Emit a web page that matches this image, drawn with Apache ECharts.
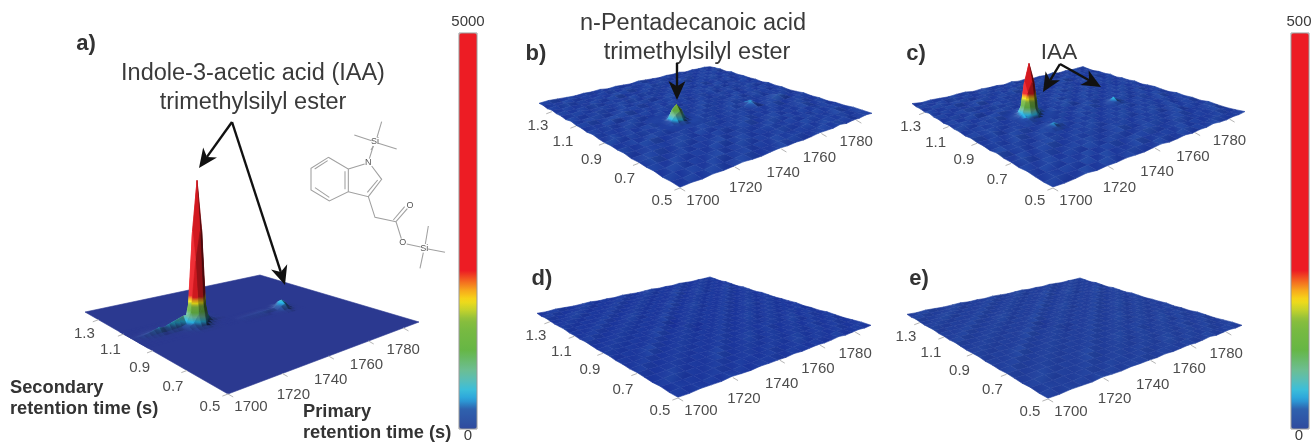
<!DOCTYPE html>
<html><head><meta charset="utf-8">
<style>html,body{margin:0;padding:0;background:#fff}#c{width:1314px;height:442px}#c canvas{filter:blur(0.55px)}</style>
<script src="https://cdn.jsdelivr.net/npm/echarts@6/dist/echarts.min.js"></script>
</head><body><div id="c"></div>
<script>
const primaryTicks = [1700, 1720, 1740, 1760, 1780];
const secondaryTicks = [0.5, 0.7, 0.9, 1.1, 1.3];
const primaryRange = [1700, 1790];
const secondaryRange = [0.5, 1.42];
const scaleMaxA = 5000, scaleMaxB = 500;

// flat baseline (counts)
const surfaceA = [[0,0],[0,0]];
// baseline mottling, in units of 3 counts; rows = secondary, columns = primary
const surfaceB = [
[2,3,1,4,2,3,5,2,1,3,4,2,3,1,2,4,3,2,5,1,3,2,4,2],
[3,1,4,2,5,1,2,4,3,2,1,5,2,4,3,1,2,5,3,2,4,1,2,3],
[1,4,2,3,1,5,3,2,4,1,3,2,4,2,1,3,5,1,2,4,2,3,1,4],
[4,2,5,1,3,2,4,1,2,5,2,3,1,3,4,2,1,3,4,2,1,5,3,2],
[2,3,1,4,2,3,1,5,3,2,4,1,3,5,2,1,4,2,3,1,4,2,2,3],
[3,5,2,1,4,1,3,2,4,1,2,4,2,1,3,5,2,3,1,4,3,1,4,1],
[1,2,4,3,2,5,2,3,1,4,3,2,5,3,1,2,4,1,3,2,5,2,1,3],
[4,1,3,2,1,3,4,1,5,2,1,3,2,4,2,3,1,4,2,1,3,4,2,2],
[2,3,2,5,3,1,2,4,2,3,4,1,3,2,4,1,3,2,5,3,1,2,3,4],
[3,1,4,1,2,4,3,1,3,5,2,3,1,4,2,3,12,1,3,4,8,3,1,2],
[1,5,2,3,4,2,1,5,2,1,4,2,3,1,5,2,2,3,1,2,3,2,4,1],
[2,3,1,4,1,3,4,2,3,2,1,4,2,3,1,4,4,2,3,5,1,3,2,3],
[4,1,3,2,5,1,2,3,1,4,3,1,5,2,3,1,2,5,1,3,2,4,1,2],
[1,3,4,1,2,4,3,1,4,2,2,3,1,4,2,3,4,1,3,2,4,1,3,4],
[3,2,1,5,3,2,1,4,2,3,5,1,3,2,4,1,2,3,4,1,2,5,2,1],
[2,4,3,1,2,5,3,2,1,4,1,3,4,1,3,2,5,1,2,3,4,2,1,3],
[5,1,2,4,1,3,2,4,3,1,2,5,2,3,1,4,2,3,5,1,3,1,4,2],
[1,3,2,3,4,1,5,1,2,4,3,1,4,2,3,1,3,2,1,4,2,3,2,3],
[3,2,4,1,2,3,2,3,5,1,2,3,1,5,2,4,1,4,2,3,1,4,1,2],
[2,4,1,3,5,1,3,2,1,3,4,2,3,1,4,2,3,1,3,2,5,1,3,4],
[4,1,3,2,1,4,2,5,3,2,1,4,2,3,1,3,5,2,1,4,2,3,2,1],
[1,3,5,1,3,2,4,1,2,4,3,1,5,2,4,1,2,3,4,1,3,2,4,3],
[3,2,1,4,2,3,1,3,4,1,2,3,2,1,3,4,2,1,2,3,1,4,1,2],
[2,4,3,2,1,3,2,4,1,3,2,1,4,3,2,1,3,2,4,1,3,2,3,1]
];
const surfaceC = [
[3,1,2,5,1,3,2,4,2,1,3,5,1,2,4,1,3,2,5,2,1,3,2,4],
[1,4,3,1,3,2,5,1,3,4,2,1,4,3,1,5,2,3,1,3,4,2,1,2],
[2,3,1,4,2,5,1,3,2,1,5,3,2,1,3,2,4,1,3,2,1,4,3,1],
[4,1,5,2,3,1,3,2,4,3,1,2,4,5,2,1,3,5,2,1,3,2,5,2],
[1,3,2,3,1,4,2,5,1,2,4,3,1,2,3,4,1,2,4,3,2,1,3,4],
[3,5,1,4,2,1,3,2,3,1,2,5,3,1,4,2,3,1,2,5,1,4,2,1],
[2,1,3,2,5,3,1,4,2,4,1,3,2,4,1,3,2,5,1,2,3,2,4,3],
[5,2,4,1,2,3,4,1,3,2,5,1,3,2,5,1,4,2,3,1,4,1,3,2],
[1,3,2,3,1,5,2,3,1,4,2,3,1,4,2,3,1,3,2,4,2,3,1,4],
[3,4,1,5,2,1,4,2,5,1,3,2,4,1,3,2,5,1,4,2,1,5,2,1],
[2,1,3,2,4,3,1,3,2,3,1,5,2,3,1,4,2,3,1,3,4,2,3,2],
[4,2,5,1,3,2,5,1,4,2,4,1,3,5,2,1,3,2,5,1,2,3,1,4],
[1,3,2,4,1,3,2,3,1,5,2,3,1,2,4,3,1,4,2,3,1,4,2,3],
[3,1,4,2,3,1,4,2,3,1,3,2,6,1,3,2,4,1,3,2,5,1,3,1],
[2,5,1,3,5,2,1,5,2,4,1,4,2,3,1,5,2,3,1,4,2,3,2,4],
[4,2,3,1,2,4,3,1,3,2,3,1,5,2,4,1,3,2,4,1,3,1,4,2],
[1,3,1,5,3,1,2,4,1,5,2,3,1,4,2,3,1,5,2,3,2,4,1,3],
[3,2,4,2,1,3,5,2,3,1,4,2,3,1,5,2,4,1,3,1,4,2,3,1],
[2,4,1,3,4,2,1,3,2,3,1,5,2,3,1,3,2,3,2,5,1,3,1,4],
[5,1,3,2,1,5,3,1,4,2,3,1,4,2,3,1,4,2,1,3,2,4,3,2],
[1,3,2,4,3,1,2,4,1,3,5,2,1,3,4,2,1,5,3,2,4,1,2,3],
[3,2,5,1,2,4,1,3,2,4,1,3,4,1,2,5,3,1,2,4,1,3,4,1],
[2,4,1,3,5,1,3,2,5,1,2,4,2,3,1,3,2,4,1,3,2,5,1,2],
[4,1,3,2,1,3,4,1,3,2,3,1,5,2,4,1,3,2,5,1,3,2,3,4]
];
const surfaceD = [
[2,1,3,2,1,4,2,1,3,2,2,1,3,1,2,3,1,2,4,1,2,3,1,2],
[1,3,2,1,3,2,1,3,1,2,3,2,1,2,3,1,3,2,1,3,2,1,2,3],
[3,2,1,2,1,3,2,1,2,3,1,3,2,1,2,4,1,2,3,1,3,2,1,2],
[1,2,4,1,2,1,3,2,1,2,3,1,2,3,1,2,3,1,2,2,1,3,2,1],
[2,1,2,3,1,2,1,4,2,1,2,3,1,2,3,1,2,3,1,3,2,1,3,2],
[3,2,1,2,3,1,2,1,3,2,1,2,4,1,2,2,1,2,3,1,2,2,1,3],
[1,3,2,1,2,3,1,2,1,3,2,1,2,3,1,3,2,1,2,4,1,3,2,1],
[2,1,3,2,1,2,3,1,2,1,3,2,1,2,3,1,2,3,1,2,3,1,2,2],
[1,2,1,4,2,1,2,3,1,2,1,3,2,1,2,3,1,2,3,1,2,2,3,1],
[3,1,2,1,3,2,1,2,3,1,2,1,3,2,1,2,4,1,2,3,1,2,1,3],
[2,3,1,2,1,3,2,1,2,3,0,2,1,3,2,1,2,3,1,2,3,1,2,2],
[1,2,3,1,2,1,4,2,1,2,3,1,2,1,3,2,1,2,3,1,2,3,1,2],
[2,1,2,3,1,2,1,3,2,0,2,3,1,2,1,3,2,1,2,4,1,2,3,1],
[3,2,1,2,3,1,2,1,3,2,1,2,3,1,2,1,3,2,1,2,3,1,2,2],
[1,3,2,1,2,3,1,2,1,4,2,1,2,3,1,2,1,3,2,1,2,3,1,3],
[2,1,3,2,1,2,3,1,2,1,3,2,1,2,4,1,2,1,3,2,1,2,3,1],
[1,2,1,3,2,1,2,4,1,2,1,3,2,1,2,3,1,2,1,3,2,1,2,2],
[3,1,2,1,3,2,1,2,3,1,2,1,4,2,1,2,3,1,2,1,3,2,1,3],
[2,3,1,2,1,3,2,1,2,3,1,2,1,3,2,1,2,3,1,2,1,4,2,1],
[1,2,3,1,2,1,3,2,1,2,3,1,2,1,3,2,1,2,4,1,2,1,3,2],
[2,1,2,4,1,2,1,3,2,1,2,3,1,2,1,4,2,1,2,3,1,2,1,3],
[3,2,1,2,3,1,2,1,3,2,1,2,3,1,2,1,3,2,1,2,3,1,2,1],
[1,3,2,1,2,4,1,2,1,3,2,1,2,4,1,2,1,3,2,1,2,3,1,2],
[2,1,3,2,1,2,3,1,2,1,3,2,1,2,3,1,2,1,3,2,1,2,2,3]
];
const surfaceE = surfaceD;

// fine sampled peaks, counts above the baseline; rows = secondary, columns = primary
const peakA1 = [
[0,0,0,0,0,0,0,0,0,0,3,5,5,5,3,0,0,0,0,0],
[0,0,0,0,0,0,0,0,0,5,10,20,20,20,8,3,0,0,0,0],
[0,0,0,0,0,0,0,3,5,15,30,100,100,100,30,8,0,0,0,0],
[0,0,0,5,8,10,12,15,20,35,150,300,800,1400,150,25,8,0,0,0],
[0,5,20,40,60,90,70,100,120,150,250,900,4300,6200,1500,120,30,5,0,0],
[5,30,80,150,250,350,280,400,500,600,700,700,6200,9500,6200,600,120,40,15,5],
[0,5,15,30,50,70,60,80,100,120,120,120,1500,6200,4300,900,150,30,5,0],
[0,0,0,5,8,8,10,12,12,12,12,25,150,1400,800,300,150,25,8,0],
[0,0,0,0,0,0,0,0,3,5,8,8,30,100,100,100,30,8,0,0],
[0,0,0,0,0,0,0,0,0,0,3,5,8,20,20,20,10,5,0,0],
[0,0,0,0,0,0,0,0,0,0,0,0,3,5,5,5,3,0,0,0]
];
const peakA2 = [
[0,0,0,0,0,0,0,0,0,5,5,5,2,0,0,0],
[0,0,0,0,0,0,0,0,8,16,42,74,8,2,0,0],
[5,10,15,20,25,30,35,8,14,50,240,345,100,6,2,0],
[15,30,40,50,60,70,80,90,100,110,345,530,345,32,8,2],
[5,10,15,20,25,30,35,30,30,6,100,345,240,50,14,2],
[0,0,0,0,0,0,0,0,0,2,8,74,42,16,8,0],
[0,0,0,0,0,0,0,0,0,0,2,5,5,5,0,0]
];
const peakB1 = [
[0,0,0,0,1,0,0,0,0],
[0,1,2,2,2,1,0,0,0],
[0,2,4,10,18,2,1,0,0],
[1,2,12,58,85,20,2,1,0],
[1,2,8,85,130,85,8,2,1],
[0,1,2,20,85,58,12,2,1],
[0,0,1,2,18,10,4,2,0],
[0,0,0,1,2,2,2,1,0],
[0,0,0,0,1,0,0,0,0]
];
const peakC1 = [
[0,0,0,0,2,0,0,0,0],
[0,2,5,5,5,2,0,0,0],
[0,7,14,37,65,7,2,0,0],
[2,7,40,200,280,70,6,2,0],
[2,7,28,280,425,280,28,7,2],
[0,2,6,70,280,200,40,7,2],
[0,0,2,7,65,37,14,7,0],
[0,0,0,2,5,5,5,2,0],
[0,0,0,0,2,0,0,0,0]
];
const peakC2 = [
[0,0,2,1,0],
[1,10,12,2,0],
[3,12,38,12,3],
[0,2,12,10,1],
[0,1,2,0,0]
];
const peakC3 = [
[0,0,2,1,0],
[1,8,10,2,0],
[3,10,30,10,3],
[0,2,10,8,1],
[0,1,2,0,0]
];

const fontName = '"Liberation Sans", Arial, sans-serif';
const colorStops = [[0.05,'#2f62ae'],[0.085,'#2abdee'],[0.14,'#6dbfa0'],[0.2,'#66b645'],[0.27,'#7fbb3f'],[0.29,'#a6c538'],[0.318,'#f6ea17'],[0.36,'#f7941d'],[0.397,'#ed1c24'],[1,'#ed1c24']];
const rgb = h => [1,3,5].map(i => parseInt(h.substr(i,2),16));
const ramp = (base,low) => [[0,rgb(base)]].concat(colorStops.map((s,i) => [s[0],rgb(i===0&&low?low:s[1])]));
function colorAt(r,t){
  t=Math.max(0,Math.min(1,t));
  let k=0; while(k<r.length-2 && r[k+1][0]<t) k++;
  const f=Math.min(1,(t-r[k][0])/(r[k+1][0]-r[k][0]));
  return r[k][1].map((v,j)=>v+(r[k+1][1][j]-v)*f);
}
function sample(base,n){
  const r=ramp(base),out=[];
  for(let i=0;i<n;i++) out.push('rgb('+colorAt(r,i/(n-1)).map(Math.round).join(',')+')');
  return out;
}

const secOffsets = [[-18,13],[-14,16],[-13,17],[-13,16],[-14,14]];
const priOffsets = [[23,13],[11,21],[2,24],[-2,24],[0,22]];

const panels = [
 {name:'a',quad:[[228,394],[419,322],[260,275],[85,312]],zPx:0.015,zMax:scaleMaxA,base:'#2b3990',surface:surfaceA,unit:1,
  patches:[{p:1740,s:0.90,values:peakA2},{p:1700,s:0.93,values:peakA1}]},
 {name:'b',quad:[[680,188],[872,114],[710,67],[539,104]],zPx:0.12,zMax:scaleMaxB,base:'#1a3398',low:'#2a58b0',surface:surfaceB,unit:3,
  patches:[{p:1722,s:0.83,values:peakB1}]},
 {name:'c',quad:[[1053,188],[1245,113],[1083,68],[912,105]],zPx:0.12,zMax:scaleMaxB,base:'#1b3498',low:'#2a58b0',surface:surfaceC,unit:3,
  patches:[{p:1758,s:0.87,values:peakC2},{p:1720,s:0.93,values:peakC1},{p:1723,s:0.81,values:peakC3}]},
 {name:'d',quad:[[678,398],[871,326],[710,278],[537,314]],zPx:0.12,zMax:scaleMaxB,base:'#193098',low:'#2a58b0',surface:surfaceD,unit:3,patches:[]},
 {name:'e',quad:[[1048,399],[1242,326],[1080,279],[907,315]],zPx:0.12,zMax:scaleMaxB,base:'#1f3896',low:'#2a58b0',surface:surfaceE,unit:3,patches:[]}
];

function homography(q){
  const [x0,y0]=q[0],[x1,y1]=q[1],[x2,y2]=q[2],[x3,y3]=q[3];
  const dx1=x1-x2,dx2=x3-x2,sx=x0-x1+x2-x3,dy1=y1-y2,dy2=y3-y2,sy=y0-y1+y2-y3;
  const den=dx1*dy2-dx2*dy1,g=(sx*dy2-dx2*sy)/den,h=(dx1*sy-sx*dy1)/den;
  const a=x1-x0+g*x1,b=x3-x0+h*x3,d=y1-y0+g*y1,e=y3-y0+h*y3;
  return (u,v)=>{const w=g*u+h*v+1;return [(a*u+b*v+x0)/w,(d*u+e*v+y0)/w];};
}
const pStep=2, sStep=0.02;

function baseAt(panel,p,s){
  const m=panel.surface,nr=m.length,nc=m[0].length;
  const fc=(p-primaryRange[0])/(primaryRange[1]-primaryRange[0])*(nc-1);
  const fr=(s-secondaryRange[0])/(secondaryRange[1]-secondaryRange[0])*(nr-1);
  const c=Math.min(nc-2,Math.max(0,Math.floor(fc))),r=Math.min(nr-2,Math.max(0,Math.floor(fr)));
  const a=fc-c,b=fr-r;
  return panel.unit*((m[r][c]*(1-a)+m[r][c+1]*a)*(1-b)+(m[r+1][c]*(1-a)+m[r+1][c+1]*a)*b);
}
function buildCells(panel){
  const rows=[];
  const m=panel.surface,nr=m.length,nc=m[0].length;
  const dp=(primaryRange[1]-primaryRange[0])/(nc-1),ds=(secondaryRange[1]-secondaryRange[0])/(nr-1);
  for(let c=nc-2;c>=0;c--)for(let r=nr-2;r>=0;r--){
    rows.push([primaryRange[0]+c*dp,secondaryRange[0]+r*ds,dp,ds,
      m[r][c]*panel.unit,m[r][c+1]*panel.unit,m[r+1][c+1]*panel.unit,m[r+1][c]*panel.unit]);
  }
  panel.patches.forEach(pt=>{
    const v=pt.values;
    for(let c=v[0].length-2;c>=0;c--)for(let r=v.length-2;r>=0;r--){
      const p=pt.p+c*pStep,s=pt.s+r*sStep;
      rows.push([p,s,pStep,sStep,
        v[r][c]+baseAt(panel,p,s),
        v[r][c+1]+baseAt(panel,p+pStep,s),
        v[r+1][c+1]+baseAt(panel,p+pStep,s+sStep),
        v[r+1][c]+baseAt(panel,p,s+sStep)]);
    }
  });
  return rows;
}
function shadeCss(c,k){
  const m = k<=1 ? c.map(v=>v*k) : c.map(v=>v+(255-v)*(k-1));
  return 'rgb('+m.map(v=>Math.round(Math.min(255,v))).join(',')+')';
}
function surfaceRender(panel){
  const H=homography(panel.quad), stops=ramp(panel.base,panel.low);
  return function(params,api){
    const cs=params.coordSys;
    const p=api.value(0),s=api.value(1),dp=api.value(2),ds=api.value(3);
    const z=[api.value(4),api.value(5),api.value(6),api.value(7)];
    const corners=[[p,s],[p+dp,s],[p+dp,s+ds],[p,s+ds]].map(d=>{
      const pt=api.coord(d);
      return H((pt[0]-cs.x)/cs.width,1-(pt[1]-cs.y)/cs.height);
    });
    const pts=corners.map((c,i)=>[c[0],c[1]-z[i]*panel.zPx]);
    const lu=Math.hypot(corners[1][0]-corners[0][0],corners[1][1]-corners[0][1]);
    const lv=Math.hypot(corners[3][0]-corners[0][0],corners[3][1]-corners[0][1]);
    const gu=(z[1]-z[0]+z[2]-z[3])/2*panel.zPx/lu, gv=(z[3]-z[0]+z[2]-z[1])/2*panel.zPx/lv;
    const sl=(gu-gv)/Math.sqrt(1+gu*gu+gv*gv);
    const k= sl<0 ? 1+0.5*sl : 1+0.12*sl;
    let iMin=0,iMax=0;
    z.forEach((v,i)=>{ if(v<z[iMin]) iMin=i; if(v>z[iMax]) iMax=i; });
    const zLo=z[iMin],zHi=z[iMax];
    let fill;
    if(zHi-zLo<1){
      fill=shadeCss(colorAt(stops,(zLo+zHi)/2/panel.zMax),k);
    }else{
      const tLo=zLo/panel.zMax,tHi=zHi/panel.zMax;
      const cs2=[{offset:0,color:shadeCss(colorAt(stops,tLo),k)}];
      stops.forEach(st=>{ if(st[0]>tLo&&st[0]<tHi) cs2.push({offset:(st[0]-tLo)/(tHi-tLo),color:shadeCss(st[1],k)}); });
      cs2.push({offset:1,color:shadeCss(colorAt(stops,tHi),k)});
      fill=new echarts.graphic.LinearGradient(pts[iMin][0],pts[iMin][1],pts[iMax][0],pts[iMax][1],cs2,true);
    }
    return {type:'polygon',shape:{points:pts},style:{fill:fill,stroke:fill,lineWidth:0.6}};
  };
}
function tickRender(panel){
  const H=homography(panel.quad);
  return function(params,api){
    const cs=params.coordSys;
    const kind=api.value(0),val=api.value(1),idx=api.value(2);
    const d= kind===0 ? [primaryRange[0],val] : [val,secondaryRange[0]];
    const pt=api.coord(d);
    const c=H((pt[0]-cs.x)/cs.width,1-(pt[1]-cs.y)/cs.height);
    const q=panel.quad;
    const dir= kind===0 ? [q[0][0]-q[1][0],q[0][1]-q[1][1]] : [q[0][0]-q[3][0],q[0][1]-q[3][1]];
    const n=Math.hypot(dir[0],dir[1]);
    const off=(kind===0?secOffsets:priOffsets)[idx];
    return {type:'group',children:[
      {type:'line',shape:{x1:c[0],y1:c[1],x2:c[0]+dir[0]/n*6,y2:c[1]+dir[1]/n*6},style:{stroke:'#b5b5b5',lineWidth:1}},
      {type:'text',x:c[0]+off[0],y:c[1]+off[1],style:{text:kind===0?val.toFixed(1):String(val),fill:'#4d4d4d',font:'15px '+fontName,textAlign:'center',textVerticalAlign:'middle'}}
    ]};
  };
}

const grids=[],xAxes=[],yAxes=[],series=[];
panels.forEach((panel,i)=>{
  const xs=panel.quad.map(q=>q[0]),ys=panel.quad.map(q=>q[1]);
  const l=Math.min(...xs),t=Math.min(...ys);
  grids.push({left:l,top:t,width:Math.max(...xs)-l,height:Math.max(...ys)-t,show:false});
  xAxes.push({gridIndex:i,type:'value',min:primaryRange[0],max:primaryRange[1],show:false});
  yAxes.push({gridIndex:i,type:'value',min:secondaryRange[0],max:secondaryRange[1],show:false});
  series.push({type:'custom',name:'panel '+panel.name,xAxisIndex:i,yAxisIndex:i,silent:true,animation:false,clip:false,
    dimensions:['primary','secondary','dp','ds','z0','z1','z2','z3'],encode:{x:0,y:1},
    renderItem:surfaceRender(panel),data:buildCells(panel)});
});
panels.forEach((panel,i)=>{
  const ticks=secondaryTicks.map((v,k)=>[0,v,k]).concat(primaryTicks.map((v,k)=>[1,v,k]));
  series.push({type:'custom',name:'ticks '+panel.name,xAxisIndex:i,yAxisIndex:i,silent:true,animation:false,clip:false,
    renderItem:tickRender(panel),data:ticks,encode:{x:1}});
});

function arrow(x1,y1,x2,y2){
  const a=Math.atan2(y2-y1,x2-x1),L=19,W=8.5,ca=Math.cos(a),sa=Math.sin(a);
  const bx=x2-ca*L,by=y2-sa*L,nx=x2-ca*L*0.72,ny=y2-sa*L*0.72;
  return [
   {type:'line',shape:{x1,y1,x2:nx,y2:ny},style:{stroke:'#111',lineWidth:2.4},z:50},
   {type:'polygon',shape:{points:[[x2,y2],[bx-sa*W,by+ca*W],[nx,ny],[bx+sa*W,by-ca*W]]},style:{fill:'#111'},z:50}
  ];
}
const label=(text,x,y,size,bold,align)=>({type:'text',x,y,z:50,style:{text,fill:bold?'#333':'#3a3a3a',font:(bold?'bold ':'')+size+'px '+fontName,textAlign:align||'center',textVerticalAlign:'middle'}});

const molBonds=[
 [[115,172],[175,207],[175,275],[118,303],[63,270],[63,205],[115,172]],
 [[74,207],[113,182]],[[165,214],[165,268]],[[75,263],[118,292]],
 [[175,207],[224,192]],[[245,198],[275,238],[235,290],[175,275]],[[263,240],[232,277]],
 [[238,176],[250,138]],[[193,105],[245,122]],[[265,130],[320,147]],[[275,65],[261,112]],[[250,138],[243,150]],
 [[235,290],[255,352],[318,365]],[[318,365],[352,326]],[[310,360],[344,320]],
 [[318,365],[334,416]],[[350,432],[392,441]],[[414,447],[465,457]],[[415,378],[406,432]],[[400,458],[390,505]]
];
const molAtoms=[['Si',255,125],['N',235,188],['O',360,318],['O',338,428],['Si',403,445]];
const molecule={type:'group',x:290,y:100,scaleX:1/3,scaleY:1/3,z:40,children:
  molBonds.map(b=>({type:'polyline',shape:{points:b},style:{stroke:'#a0a0a0',lineWidth:3.2,fill:null}}))
  .concat(molAtoms.map(a=>({type:'text',x:a[1],y:a[2],style:{text:a[0],fill:'#555',font:'27px '+fontName,textAlign:'center',textVerticalAlign:'middle'}})))
};

const barBox=(x,y,w,h)=>({type:'rect',shape:{x,y,width:w,height:h},style:{fill:null,stroke:'#999',lineWidth:1},z:45});

const elements=[
  label('a)',86,44,22,true),label('b)',536,54,22,true),label('c)',916,54,22,true),label('d)',542,279,22,true),label('e)',919,279,22,true),
  label('Indole-3-acetic acid (IAA)',253,74,23.5,false),label('trimethylsilyl ester',253,103,23.5,false),
  label('n-Pentadecanoic acid',693,24,23.5,false),label('trimethylsilyl ester',697,53,23.5,false),
  label('IAA',1059,53,22.5,false),
  label('Secondary',10,388,18.3,true,'left'),label('retention time (s)',10,409,18.3,true,'left'),
  label('Primary',303,412,18.3,true,'left'),label('retention time (s)',303,433,18.3,true,'left'),
  label(String(scaleMaxA),468,22,15,false),label('0',468,436,15,false),
  label(String(scaleMaxB),1299,22,15,false),label('0',1299,436,15,false),
  barBox(459,33,18,396),barBox(1291,33,18,396),
  molecule
].concat(arrow(232,122,199,168),arrow(232,122,285,285),arrow(677,63,677,100),arrow(1060,64,1043,92),arrow(1060,64,1101,87));

const chart=echarts.init(document.getElementById('c'));
chart.setOption({
  animation:false,backgroundColor:'#fff',
  textStyle:{fontFamily:fontName},
  grid:grids,xAxis:xAxes,yAxis:yAxes,series,
  visualMap:[
   {type:'continuous',seriesIndex:0,dimension:4,min:0,max:scaleMaxA,left:459,top:33,padding:0,itemWidth:18,itemHeight:396,calculable:false,hoverLink:false,inRange:{color:sample('#2f4a9e',41)}},
   {type:'continuous',seriesIndex:1,dimension:4,min:0,max:scaleMaxB,left:1291,top:33,padding:0,itemWidth:18,itemHeight:396,calculable:false,hoverLink:false,inRange:{color:sample('#2f4a9e',41)}}
  ],
  graphic:{elements}
});
</script></body></html>
